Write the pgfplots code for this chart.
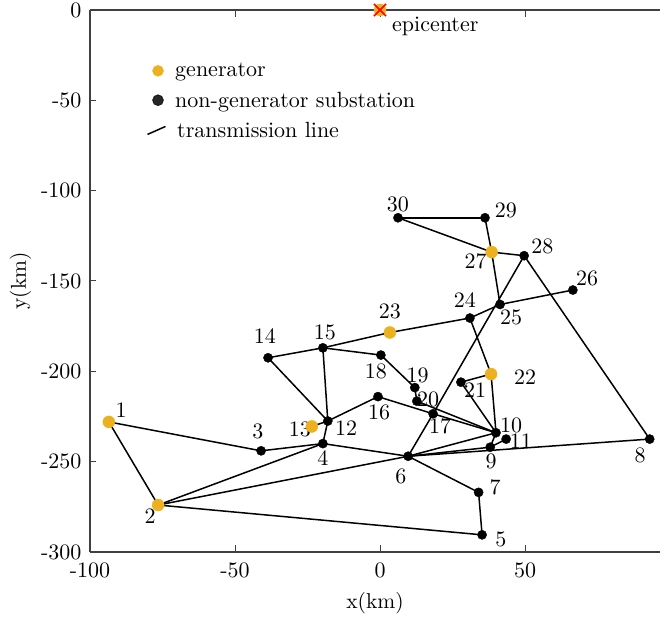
\documentclass[border=0pt]{standalone}
\usepackage{pgfplots}
\pgfplotsset{compat=1.18}
\definecolor{gen}{RGB}{237,177,32}
\definecolor{axc}{RGB}{64,64,64}
\font\reff="[lmroman10-regular]:mapping=tex-text" at 22bp
\font\reflab="[lmroman10-regular]:mapping=tex-text" at 21.5bp
\pgfplotstableread{
x y
-93.5 -228
-76.5 -274
-41 -244
-19.7 -240
35.2 -290.5
9.7 -247
34 -267
93 -237.5
38 -242
40 -234
43.5 -237.5
-18 -227.5
-23.5 -230.5
-38.6 -192.5
-19.7 -187
-0.7 -214
18.3 -223.5
0.3 -191
12 -209
12.7 -216.5
27.9 -206
38.3 -201.5
3.4 -178.5
31 -170.5
41.4 -163
66.5 -155
38.5 -134
49.7 -136
36.2 -115
6.2 -115
}\nodes
\def\edge#1#2#3#4{\addplot[black,line width=1.5bp,forget plot] coordinates {(#1,#2) (#3,#4)};}
\begin{document}
\reff
\begin{tikzpicture}[font=\reff]
\path[use as bounding box] (-90bp,-67bp) rectangle (570bp,552bp);
\begin{axis}[
  scale only axis,width=570bp,height=542bp,
  xmin=-100,xmax=96.55,ymin=-300,ymax=0,
  xtick={-100,-50,0,50},ytick={-300,-250,-200,-150,-100,-50,0},
  xticklabels={-100,-50,0,50},yticklabels={-300,-250,-200,-150,-100,-50,0},
  tick label style={font=\reff},label style={font=\reflab},
  tick align=inside,tick pos=left,major tick length=6.5bp,
  axis line style={axc,line width=1.5bp},
  tick style={axc,line width=1bp},
  xlabel={x(km)},ylabel={y(km)},
  xticklabel style={yshift=-7.5bp},yticklabel style={xshift=-5bp},
  xlabel style={yshift=-7bp},ylabel style={yshift=3bp},
  clip=false,
  axis x line*=bottom,axis y line*=left,
  legend style={draw=none,fill=none,at={(axis cs:-80.5,-28.3)},anchor=north west,row sep=9.5bp,inner sep=0pt,font=\reff},
  legend cell align=left,
]
% top axis line and its ticks
\addplot[axc,line width=1.5bp,forget plot] coordinates {(-100,0) (96.55,0)};
\addplot[axc,line width=1bp,forget plot] coordinates {(-50,0) (-50,-3.6)};
\addplot[axc,line width=1bp,forget plot] coordinates {(0,0) (0,-3.6)};
\addplot[axc,line width=1bp,forget plot] coordinates {(50,0) (50,-3.6)};
% edges
\edge{-93.5}{-228}{-76.5}{-274}
\edge{-93.5}{-228}{-41}{-244}
\edge{-76.5}{-274}{-19.7}{-240}
\edge{-76.5}{-274}{9.7}{-247}
\edge{-76.5}{-274}{35.2}{-290.5}
\edge{-41}{-244}{-19.7}{-240}
\edge{-19.7}{-240}{9.7}{-247}
\edge{-19.7}{-240}{-18}{-227.5}
\edge{35.2}{-290.5}{34}{-267}
\edge{9.7}{-247}{34}{-267}
\edge{9.7}{-247}{93}{-237.5}
\edge{9.7}{-247}{38}{-242}
\edge{9.7}{-247}{40}{-234}
\edge{9.7}{-247}{18.3}{-223.5}
\edge{38}{-242}{40}{-234}
\edge{38}{-242}{43.5}{-237.5}
\edge{40}{-234}{38.3}{-201.5}
\edge{40}{-234}{27.9}{-206}
\edge{40}{-234}{18.3}{-223.5}
\edge{40}{-234}{12.7}{-216.5}
\edge{-18}{-227.5}{-23.5}{-230.5}
\edge{-18}{-227.5}{-38.6}{-192.5}
\edge{-18}{-227.5}{-19.7}{-187}
\edge{-18}{-227.5}{-0.7}{-214}
\edge{-0.7}{-214}{18.3}{-223.5}
\edge{-38.6}{-192.5}{-19.7}{-187}
\edge{-19.7}{-187}{0.3}{-191}
\edge{-19.7}{-187}{3.4}{-178.5}
\edge{0.3}{-191}{12}{-209}
\edge{12}{-209}{12.7}{-216.5}
\edge{27.9}{-206}{38.3}{-201.5}
\edge{38.3}{-201.5}{31}{-170.5}
\edge{3.4}{-178.5}{31}{-170.5}
\edge{31}{-170.5}{41.4}{-163}
\edge{41.4}{-163}{66.5}{-155}
\edge{41.4}{-163}{38.5}{-134}
\edge{18.3}{-223.5}{49.7}{-136}
\edge{38.5}{-134}{49.7}{-136}
\edge{38.5}{-134}{36.2}{-115}
\edge{38.5}{-134}{6.2}{-115}
\edge{36.2}{-115}{6.2}{-115}
\edge{49.7}{-136}{93}{-237.5}
% substations
\addplot[only marks,mark=*,mark size=4.6bp,black,forget plot] table {\nodes};
% generators
\addplot[only marks,mark=*,mark size=6bp,gen,mark options={draw=gen,fill=gen},forget plot] coordinates {
(-93.5,-228) (-76.5,-274) (-23.5,-230.5) (38.3,-201.5) (3.4,-178.5) (38.5,-134)};
% epicenter
\addplot[only marks,mark=*,mark size=6bp,gen,mark options={fill=gen},forget plot] coordinates {(0,0)};
\addplot[only marks,mark=x,mark size=8.5bp,red,mark options={line width=1.5bp},forget plot] coordinates {(0,0)};
% legend entries
\addlegendimage{only marks,mark=*,mark size=5.5bp,gen,mark options={fill=gen}}
\addlegendentry{\hspace{7bp}generator}
\addlegendimage{only marks,mark=*,mark size=5.5bp,black,mark options={fill=black!85}}
\addlegendentry{\hspace{7bp}non-generator substation}
\addlegendimage{legend image code/.code={\draw[black,line width=1.5bp] (-2bp,-4bp)--(16bp,4bp);}}
\addlegendentry{\hspace{9bp}transmission line}
% labels
\node[anchor=west] at (axis cs:3,-9) {epicenter};
\foreach \n/\x/\y in {1/-89.3/-221.4,2/-79.3/-280,3/-42.1/-233.5,4/-19.7/-247.9,5/41.7/-293.3,6/7.2/-257.9,7/39.7/-264,8/89.7/-246.3,9/38.3/-249.6,10/45.2/-230.2,11/48.6/-238.5,12/-11.7/-231.3,13/-27.6/-232.4,14/-39.7/-180.4,15/-19/-178.2,16/-0.3/-222.5,17/20.7/-230.2,18/-1.4/-200.3,19/13/-202.5,20/16.6/-215.8,21/32.8/-210.3,22/50/-203,23/3.4/-167,24/29.3/-160.5,25/45.2/-170.4,26/71.4/-148.3,27/33/-138.9,28/56/-130.6,29/43.4/-110.7,30/6.2/-107.4}{
  \edef\tmp{\noexpand\node at (axis cs:\x,\y) {\n};}\tmp
}
\end{axis}
\end{tikzpicture}
\end{document}
